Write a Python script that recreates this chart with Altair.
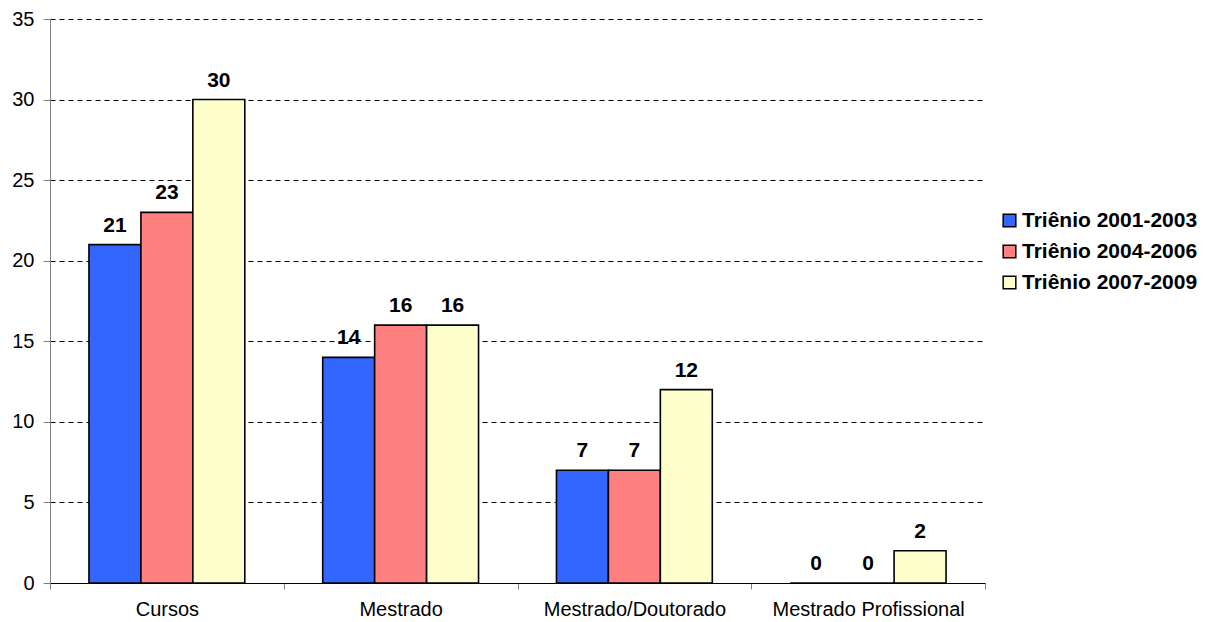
import altair as alt
import pandas as pd

categories = ["Cursos", "Mestrado", "Mestrado/Doutorado", "Mestrado Profissional"]
series = ["Triênio 2001-2003", "Triênio 2004-2006", "Triênio 2007-2009"]
v2001 = [21, 14, 7, 0]
v2004 = [23, 16, 7, 0]
v2007 = [30, 16, 12, 2]
colors = ["#3366FF", "#FF8080", "#FFFFCC"]

rows = []
for s, vals in zip(series, [v2001, v2004, v2007]):
    for c, v in zip(categories, vals):
        rows.append({"cat": c, "serie": s, "valor": v})
df = pd.DataFrame(rows)

FONT = "Liberation Sans"

x = alt.X("cat:N", sort=categories, title=None,
          scale=alt.Scale(paddingInner=0, paddingOuter=0),
          axis=alt.Axis(labelAngle=0, tickBand="extent", domainColor="#000000",
                        domainWidth=1, tickColor="#808080", tickSize=6,
                        labelPadding=10, labelFontSize=20, labelFont=FONT,
                        labelColor="#000000", grid=False, labelLimit=300))
xo = alt.XOffset("serie:N", sort=series,
                 scale=alt.Scale(paddingInner=0, paddingOuter=0.75))
y = alt.Y("valor:Q", title=None,
          scale=alt.Scale(domain=[0, 35], nice=False),
          axis=alt.Axis(values=list(range(0, 36, 5)), domainColor="#808080",
                        tickColor="#808080", tickSize=7, labelPadding=9,
                        labelFontSize=20, labelFont=FONT, labelColor="#000000",
                        grid=True, gridColor="#000000", gridDash=[5, 4],
                        gridWidth=1))

bars = alt.Chart(df).mark_bar(stroke="#000000", strokeWidth=1.6).encode(
    x=x, xOffset=xo, y=y,
    color=alt.Color("serie:N", sort=series, title=None,
                    scale=alt.Scale(domain=series, range=colors),
                    legend=alt.Legend(orient="none", legendX=949, legendY=191,
                                      symbolType="square", symbolSize=160,
                                      symbolStrokeColor="#000000",
                                      symbolStrokeWidth=1.5, symbolOpacity=1,
                                      labelFontSize=21, labelFont=FONT,
                                      labelFontWeight="bold", labelColor="#000000",
                                      rowPadding=9, labelOffset=2,
                                      labelLimit=400)),
)

labels = alt.Chart(df).mark_text(baseline="bottom", dy=-9, fontSize=21,
                                 fontWeight="bold", font=FONT,
                                 color="#000000").encode(
    x=x, xOffset=xo, y=y, text="valor:Q")

chart = alt.layer(bars, labels).properties(
    width=935, height=564,
    autosize=alt.AutoSizeParams(type="none"),
    padding={"left": 42, "top": 11, "right": 229, "bottom": 35},
).configure_view(stroke=None)

chart.save("out.html", embed_options={"renderer": "svg", "actions": False})
